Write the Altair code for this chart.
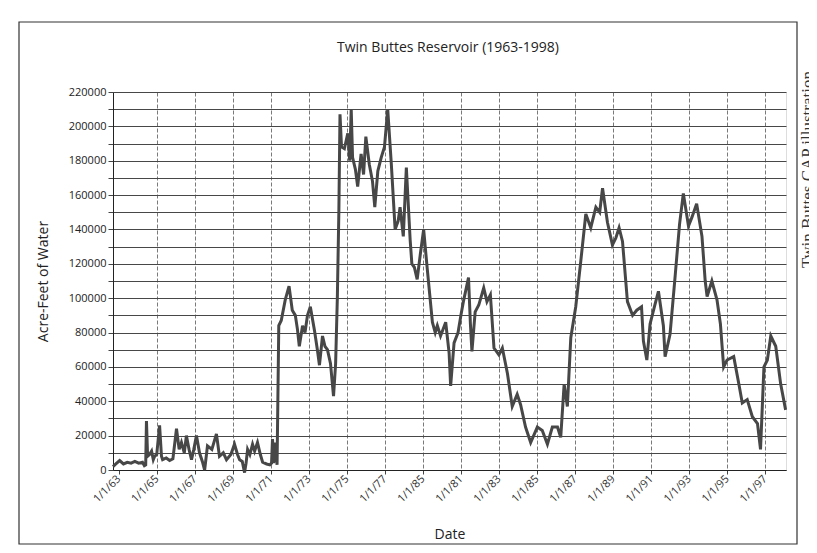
import altair as alt
import pandas as pd

years = [1962.70, 1962.85, 1963.05, 1963.25, 1963.45, 1963.65, 1963.85, 1964.05, 1964.25, 1964.35,
         1964.42, 1964.46, 1964.52, 1964.62, 1964.73, 1964.82, 1964.89, 1965.00, 1965.15, 1965.25,
         1965.31, 1965.50, 1965.68, 1965.85, 1966.04, 1966.18, 1966.30, 1966.45, 1966.56, 1966.70,
         1966.83, 1966.95, 1967.09, 1967.25, 1967.40, 1967.52, 1967.67, 1967.90, 1968.14, 1968.30,
         1968.50, 1968.67, 1968.90, 1969.09, 1969.25, 1969.36, 1969.50, 1969.62, 1969.70, 1969.78,
         1969.90, 1970.04, 1970.15, 1970.30, 1970.45, 1970.57, 1970.78, 1970.95, 1971.04, 1971.09,
         1971.15, 1971.25, 1971.33, 1971.42, 1971.55, 1971.76, 1971.96, 1972.13, 1972.29, 1972.40,
         1972.50, 1972.67, 1972.80, 1972.93, 1973.08, 1973.30, 1973.45, 1973.56, 1973.72, 1973.85,
         1973.98, 1974.14, 1974.30, 1974.41, 1974.50, 1974.58, 1974.64, 1974.72, 1974.87, 1975.05,
         1975.15, 1975.23, 1975.30, 1975.45, 1975.57, 1975.75, 1975.88, 1976.00, 1976.18, 1976.35,
         1976.47, 1976.63, 1976.81, 1976.98, 1977.15, 1977.34, 1977.54, 1977.70, 1977.80, 1977.97,
         1978.13, 1978.33, 1978.42, 1978.55, 1978.70, 1978.87, 1979.04, 1979.23, 1979.50, 1979.65,
         1979.76, 1979.93, 1980.20, 1980.38, 1980.46, 1980.64, 1980.85, 1981.00, 1981.13, 1981.40,
         1981.50, 1981.58, 1981.75, 1981.94, 1982.20, 1982.37, 1982.55, 1982.74, 1983.00, 1983.18,
         1983.45, 1983.70, 1983.96, 1984.14, 1984.40, 1984.67, 1985.02, 1985.28, 1985.55, 1985.81,
         1986.08, 1986.25, 1986.43, 1986.60, 1986.78, 1987.04, 1987.30, 1987.57, 1987.83, 1988.10,
         1988.30, 1988.45, 1988.71, 1988.97, 1989.15, 1989.32, 1989.50, 1989.76, 1990.03, 1990.25,
         1990.50, 1990.60, 1990.78, 1990.95, 1991.20, 1991.39, 1991.65, 1991.74, 1992.00, 1992.27,
         1992.50, 1992.70, 1992.97, 1993.15, 1993.40, 1993.68, 1993.85, 1993.95, 1994.20, 1994.47,
         1994.65, 1994.82, 1995.00, 1995.35, 1995.62, 1995.80, 1996.06, 1996.33, 1996.60, 1996.76,
         1996.94, 1997.12, 1997.30, 1997.56, 1997.82, 1998.08]

acre_feet = [2000, 3500, 5500, 3500, 4500, 4000, 5000, 4000, 4500, 2500,
             3000, 28500, 8000, 9000, 11000, 6000, 8000, 9000, 26000, 8000,
             6000, 7000, 5500, 6500, 24000, 12000, 16000, 10000, 20000, 12000,
             6000, 12000, 20000, 10000, 5000, 0, 14000, 12000, 21000, 8000,
             10000, 6000, 9000, 15000, 9000, 6000, 5000, -1500, 4000, 12000,
             9000, 15000, 11000, 16000, 9000, 4500, 3500, 3000, 4000, 18000,
             4000, 16000, 3000, 84000, 87000, 99000, 107000, 93000, 90000, 82000,
             72000, 84000, 80000, 90000, 95000, 81000, 70000, 61000, 78000, 72000,
             70000, 62000, 43000, 62000, 100000, 150000, 207000, 188000, 187000, 196000,
             180000, 210000, 182000, 175000, 165000, 184000, 172000, 194000, 178000, 168000,
             153000, 174000, 182000, 188000, 210000, 178000, 140000, 145000, 153000, 136000,
             176000, 134000, 120000, 118000, 111000, 126000, 140000, 117000, 86000, 80000,
             84000, 78000, 86000, 68000, 49000, 74000, 80000, 90000, 98000, 112000,
             85000, 69000, 92000, 96000, 106000, 98000, 102000, 71000, 67000, 71000,
             56000, 37000, 44000, 38000, 25000, 16000, 25000, 23000, 15000, 25000,
             25000, 19000, 50000, 37000, 77000, 95000, 121000, 149000, 141000, 153000,
             150000, 164000, 144000, 131000, 135000, 141000, 133000, 98000, 90000, 93000,
             95000, 75000, 64000, 85000, 96000, 104000, 84000, 66000, 79000, 113000,
             143000, 161000, 142000, 147000, 155000, 136000, 110000, 101000, 110000, 99000,
             85000, 60000, 64000, 66000, 50000, 39000, 41000, 31000, 27000, 12000,
             60000, 64000, 78000, 72000, 50000, 35000]

tick_years = list(range(1963, 1998, 2))
tick_labels = ["1/1/63", "1/1/65", "1/1/67", "1/1/69", "1/1/71", "1/1/73", "1/1/75", "1/1/77",
               "1/1/85", "1/1/81", "1/1/83", "1/1/85", "1/1/87", "1/1/89", "1/1/91", "1/1/93",
               "1/1/95", "1/1/97"]
y_ticks = list(range(0, 220001, 10000))

title_text = "Twin Buttes Reservoir (1963-1998)"
x_title = "Date"
y_title = "Acre-Feet of Water"
side_note = "Twin Buttes CAP illustration"

FONT = "Open Sans"

df = pd.DataFrame({"year": years, "af": acre_feet})
one = pd.DataFrame({"k": [0]})

label_expr = "[" + ",".join("'" + s + "'" for s in tick_labels) + "][round((datum.value-1963)/2)]"

W, H = 673, 378

line = alt.Chart(df).mark_line(color="#474747", strokeWidth=3, strokeJoin="miter", clip=False).encode(
    x=alt.X("year:Q",
            scale=alt.Scale(domain=[1962.7, 1998.1], nice=False, zero=False),
            axis=alt.Axis(values=tick_years, labelExpr=label_expr, labelAngle=315,
                          labelAlign="right", labelBaseline="middle", labelPadding=3,
                          labelFontSize=11, labelFont=FONT, labelColor="#333",
                          tickSize=4, tickColor="#444", domainColor="#222",
                          grid=True, gridColor="#7a7a7a", gridDash=[4, 2], gridWidth=1,
                          gridOpacity={"condition": {"test": "datum.value === 1963", "value": 0}, "value": 1},
                          title=x_title, titleFont=FONT, titleFontSize=14, titleFontWeight="normal",
                          titleColor="#222", titleX=W / 2, titleY=64, titleBaseline="middle")),
    y=alt.Y("af:Q",
            scale=alt.Scale(domain=[0, 220000], nice=False),
            axis=alt.Axis(values=y_ticks, format="d",
                          labelExpr="datum.value % 20000 === 0 ? datum.label : ''",
                          labelFontSize=11, labelFont=FONT, labelColor="#222", labelPadding=2,
                          tickSize=5, tickColor="#444", domainColor="#222",
                          grid=True, gridColor="#474747", gridWidth=1,
                          title=y_title, titleFont=FONT, titleFontSize=14, titleFontWeight="normal",
                          titleColor="#222", titleX=-70, titleY=H / 2, titleAngle=270,
                          titleAlign="center", titleBaseline="middle")),
)

title_mark = alt.Chart(one).mark_text(text=title_text, font=FONT, fontSize=14, color="#222",
                                      align="center", baseline="middle").encode(
    x=alt.value(335), y=alt.value(-44)
)

frame = alt.Chart(one).mark_rect(fill="transparent", stroke="#333", strokeWidth=1.2).encode(
    x=alt.value(-94), x2=alt.value(684), y=alt.value(-70), y2=alt.value(452)
)

note = alt.Chart(one).mark_text(text=side_note, angle=270, align="left", baseline="alphabetic",
                                font="Liberation Serif", fontSize=17, color="#333").encode(
    x=alt.value(700), y=alt.value(176)
)

chart = alt.layer(frame, line, title_mark, note).properties(
    width=W, height=H,
    padding={"left": 105, "top": 84, "right": 23, "bottom": 75},
    autosize="none",
).configure_view(stroke="#222", strokeWidth=1).configure(background="white")

chart.save("out.html", embed_options={"renderer": "svg", "actions": False})
